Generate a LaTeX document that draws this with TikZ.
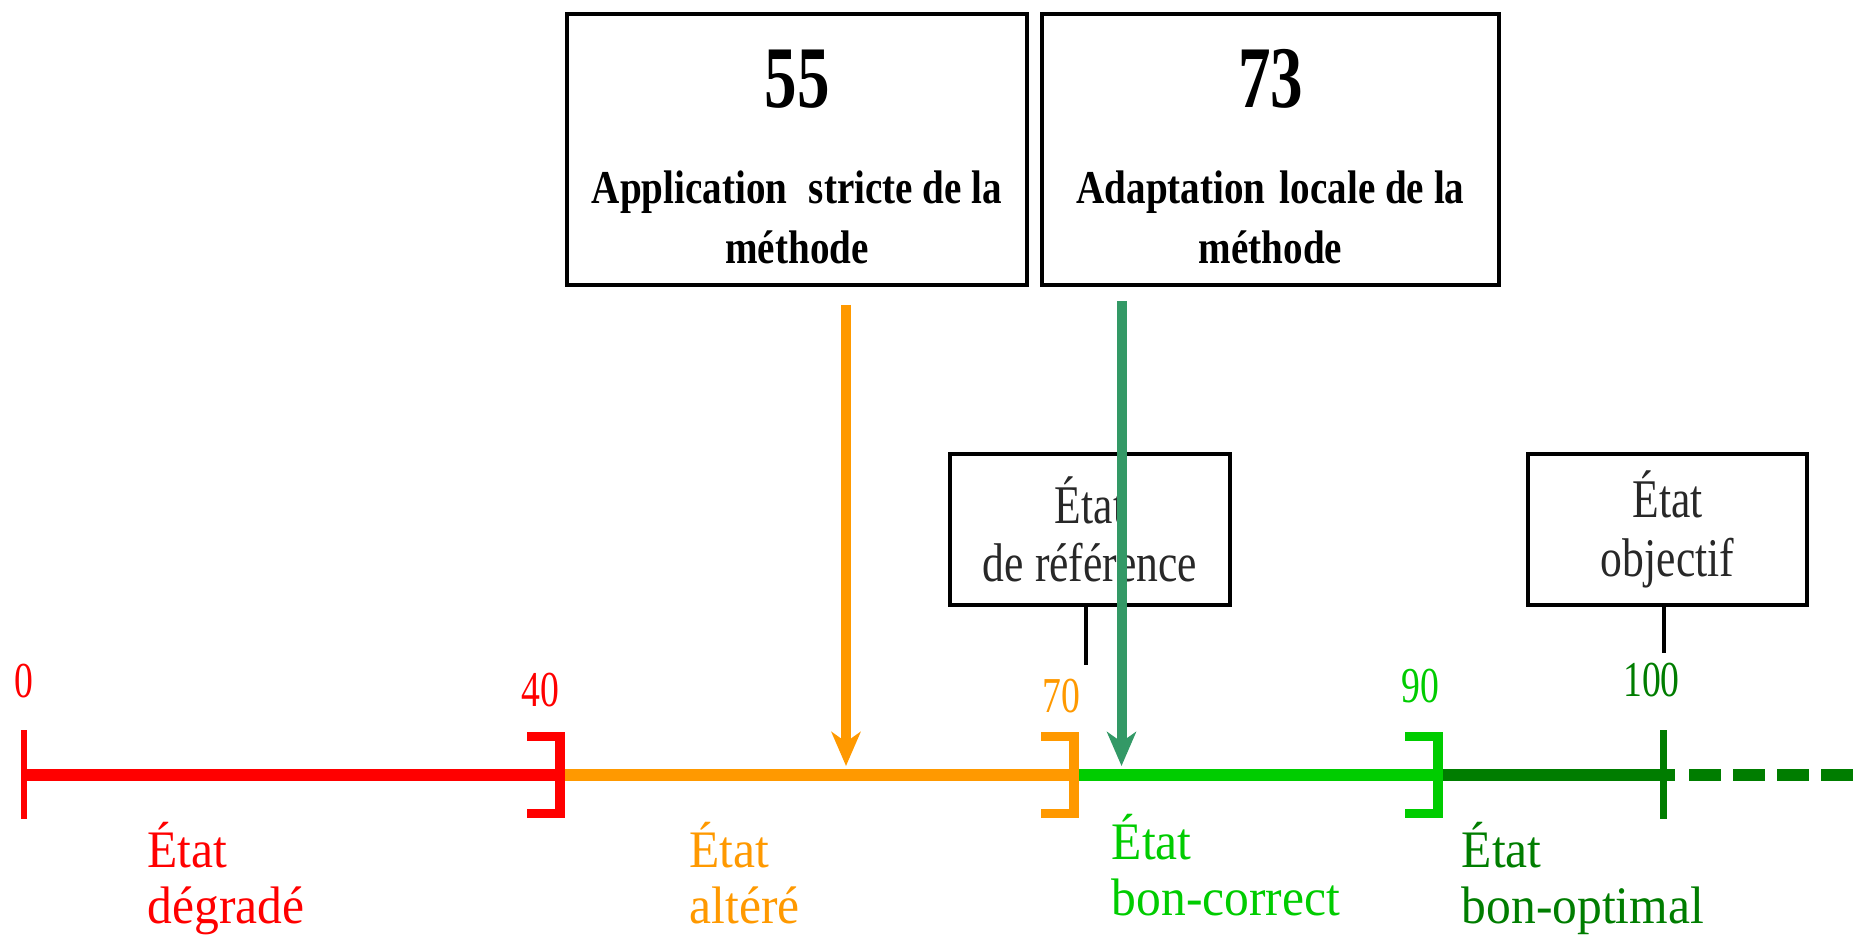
\documentclass[tikz,border=0pt]{standalone}
\usepackage{fontspec}
\setmainfont{Liberation Serif}
\newfontfamily\methodfont[FakeStretch=0.83]{Liberation Serif}
\newfontfamily\scorefont[FakeStretch=0.74]{Liberation Serif}
\newfontfamily\reffont[FakeStretch=0.8]{Liberation Serif}
\newfontfamily\tickfont[FakeStretch=0.75]{Liberation Serif}
\newfontfamily\labelfont[FakeStretch=0.94]{Liberation Serif}
\usetikzlibrary{arrows.meta}
\definecolor{etatrouge}{RGB}{255,0,0}
\definecolor{etatorange}{RGB}{255,153,0}
\definecolor{etatvert}{RGB}{0,204,0}
\definecolor{etatfonce}{RGB}{0,125,0}
\definecolor{flechevert}{RGB}{51,153,102}
\definecolor{textegris}{RGB}{40,40,40}
\begin{document}
\begin{tikzpicture}[method box/.style={rectangle,draw,line width=1.1pt,minimum width=4.6cm,minimum height=2.71cm,inner sep=0pt,align=center,font=\methodfont\bfseries\fontsize{13.4}{16.85}\selectfont},
  ref box/.style={rectangle,draw,line width=1pt,minimum width=2.8cm,minimum height=1.51cm,inner sep=0pt,align=center,text=textegris,font=\reffont\fontsize{15.5}{16.7}\selectfont},
  tick label/.style={anchor=base,inner sep=0pt,font=\tickfont\fontsize{14.3}{16}\selectfont},
  state label/.style={anchor=base west,inner sep=0pt,align=left,font=\labelfont\fontsize{15}{16.2}\selectfont},
  axis seg/.style={line width=0.12cm},
  bracket/.style={line width=0.095cm,line join=miter},
  fleche/.style={line width=0.1cm,-{Stealth[length=0.34cm,width=0.29cm,inset=0.1cm]},shorten >=0.09cm}]%
  \useasboundingbox (0,0) rectangle (18.63,9.39);
  \pgfmathsetmacro{\axe}{1.64}
  \foreach \v/\x in {0/0.24,40/5.60,70/10.74,90/14.38,100/16.635}
  \coordinate (t\v) at (\x,\axe);
  \coordinate (fin) at (18.63,\axe);
  \draw[axis seg,etatrouge] (t0) -- (t40);
  \draw[axis seg,etatorange] (t40) -- (t70);
  \draw[axis seg,etatvert] (t70) -- (t90);
  \draw[axis seg,etatfonce] (t90) -- ([xshift=0.115cm]t100);
  \draw[axis seg,etatfonce,dash pattern=on 0.32cm off 0.12cm] ([xshift=0.255cm]t100) -- (fin);
  \foreach \v/\col in {40/etatrouge,70/etatorange,90/etatvert}
  \draw[bracket,\col] ([shift={(-0.33,0.385)}]t\v) -- ([yshift=0.385cm]t\v) -- ([yshift=-0.385cm]t\v) -- ([shift={(-0.33,-0.385)}]t\v);
  \draw[line width=0.06cm,etatrouge] ([yshift=0.445cm]t0) -- ([yshift=-0.445cm]t0);
  \draw[line width=0.07cm,etatfonce] ([yshift=0.445cm]t100) -- ([yshift=-0.445cm]t100);
  \foreach \v/\x/\y/\col in {0/0.24/2.41/etatrouge,40/5.40/2.32/etatrouge,70/10.61/2.26/etatorange,90/14.20/2.36/etatvert,100/16.515/2.42/etatfonce}
  \node[tick label,text=\col] (n\v) at (\x,\y) {\v};
  
  \node[state label,text=etatrouge] (degrade) at (1.47,0.15) {État\\dégradé};
  \node[state label,text=etatorange] (altere) at (6.89,0.15) {État\\altéré};
  \node[state label,text=etatvert] (correct) at (11.11,0.23) {État\\bon-correct};
  \node[state label,text=etatfonce] (optimal) at (14.61,0.15) {État\\bon-optimal};
  
  \node[method box] (m55) at (7.97,7.895) {{\scorefont\fontsize{25}{27}\selectfont\rule{0pt}{0.725cm}55}\\[0.367cm]Application\hspace{0.25em} stricte de la\\méthode};
  \node[method box,minimum width=4.57cm] (m73) at (12.705,7.895) {{\scorefont\fontsize{25}{27}\selectfont\rule{0pt}{0.725cm}73}\\[0.367cm]Adaptation\hspace{0.1em} locale de la\\méthode};
  \node[ref box] (ref) at (10.90,4.095) {État\\de référence};
  \node[ref box,minimum width=2.79cm] (obj) at (16.675,4.095) {État\\objectif};
  \coordinate (refpied) at (10.86,2.74);
  \coordinate (objpied) at (16.64,2.86);
  \draw[line width=0.9pt] (ref.south -| refpied) -- (refpied);
  \draw[line width=0.9pt] (obj.south -| objpied) -- (objpied);
  
  \coordinate (v55) at (8.46,\axe);
  \coordinate (v73) at (11.215,\axe);
  \draw[fleche,etatorange,shorten <=0.18cm] (m55.south -| v55) -- (v55);
  \draw[fleche,flechevert,shorten <=0.14cm] (m73.south -| v73) -- (v73);
\end{tikzpicture}
\end{document}
